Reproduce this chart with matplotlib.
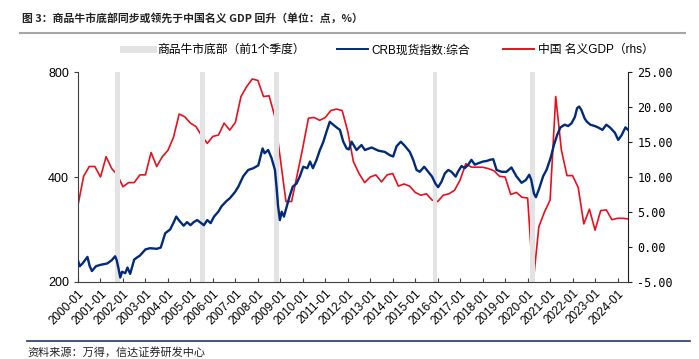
import matplotlib
matplotlib.use('Agg')
import matplotlib.pyplot as plt
from matplotlib.lines import Line2D
import numpy as np

plt.rcParams['font.family'] = ['Liberation Sans', 'Noto Sans CJK SC', 'DejaVu Sans']
plt.rcParams['axes.unicode_minus'] = False

# grey bands: commodity bull market bottoms (one quarter before), decimal years
band_start = [2001.65, 2005.42, 2008.72, 2015.77, 2020.10]
band_end = [2001.87, 2005.65, 2008.94, 2015.99, 2020.32]

# CRB spot index (composite)
crb_t = [2000.00, 2000.08, 2000.20, 2000.42, 2000.52, 2000.62, 2000.80, 2001.00, 2001.15, 2001.30,
         2001.50, 2001.65, 2001.72, 2001.80, 2001.88, 2001.96, 2002.10, 2002.20, 2002.32, 2002.50,
         2002.62, 2002.75, 2003.00, 2003.20, 2003.50, 2003.68, 2003.88, 2004.10, 2004.25, 2004.37,
         2004.50, 2004.70, 2004.85, 2005.00, 2005.15, 2005.30, 2005.45, 2005.60, 2005.75, 2005.90,
         2006.05, 2006.24, 2006.39, 2006.60, 2006.76, 2006.98, 2007.13, 2007.35, 2007.57, 2007.80,
         2008.02, 2008.12, 2008.21, 2008.30, 2008.46, 2008.61, 2008.76, 2008.83, 2008.90, 2008.98,
         2009.06, 2009.16, 2009.22, 2009.40, 2009.55, 2009.72, 2009.87, 2010.02, 2010.20, 2010.32,
         2010.45, 2010.61, 2010.76, 2010.90, 2011.06, 2011.20, 2011.35, 2011.50, 2011.65, 2011.80,
         2011.95, 2012.05, 2012.17, 2012.39, 2012.61, 2012.76, 2013.06, 2013.36, 2013.65, 2013.87,
         2014.02, 2014.17, 2014.36, 2014.54, 2014.76, 2014.91, 2015.06, 2015.20, 2015.40, 2015.58,
         2015.75, 2015.90, 2016.02, 2016.17, 2016.32, 2016.47, 2016.61, 2016.80, 2016.90, 2017.06,
         2017.20, 2017.36, 2017.50, 2017.65, 2017.80, 2018.02, 2018.20, 2018.32, 2018.47, 2018.62,
         2018.84, 2019.06, 2019.28, 2019.50, 2019.73, 2019.92, 2020.07, 2020.16, 2020.28, 2020.37,
         2020.51, 2020.69, 2020.84, 2021.02, 2021.17, 2021.31, 2021.46, 2021.65, 2021.80, 2021.95,
         2022.10, 2022.20, 2022.29, 2022.39, 2022.54, 2022.64, 2022.79, 2022.99, 2023.13, 2023.33,
         2023.50, 2023.66, 2023.88, 2024.03, 2024.18, 2024.35, 2024.47]
crb = [230, 222, 226, 236, 222, 215, 222, 224, 225, 226,
       231, 237, 231, 219, 206, 214, 212, 220, 211, 232,
       235, 238, 248, 250, 249, 251, 276, 283, 296, 308,
       300, 290, 297, 291, 297, 301, 296, 291, 301, 295,
       308, 318, 330, 341, 348, 362, 375, 402, 419, 424,
       432, 458, 483, 468, 478, 453, 419, 375, 330, 301,
       318, 308, 318, 350, 375, 383, 402, 428, 424, 443,
       424, 448, 478, 502, 541, 576, 565, 555, 546, 505,
       483, 480, 505, 478, 494, 478, 486, 476, 472, 462,
       458, 490, 505, 491, 472, 448, 419, 414, 428, 414,
       401, 383, 374, 388, 410, 419, 414, 401, 414, 430,
       424, 434, 448, 434, 438, 443, 445, 448, 450, 419,
       414, 414, 426, 402, 385, 392, 406, 393, 359, 350,
       370, 402, 419, 453, 494, 527, 555, 565, 560, 570,
       594, 630, 637, 623, 588, 576, 565, 560, 555, 546,
       565, 555, 536, 511, 527, 555, 546]

# China nominal GDP yoy (%), quarterly from 2000Q1
gdp = [6.0, 10.1, 11.5, 11.5,
       10.0, 12.9, 11.2, 10.3,
       8.6, 9.2, 9.2, 10.3,
       10.3, 13.5, 11.5, 12.9,
       13.8, 15.7, 19.0, 18.6,
       17.7, 17.2, 15.9, 14.8,
       15.8, 16.0, 17.7, 16.7,
       17.8, 21.5, 22.9, 24.0,
       23.8, 21.5, 21.6, 18.7,
       12.6, 6.5, 6.5, 10.3,
       14.2, 18.4, 18.5, 18.1,
       18.5, 19.5, 19.7, 19.5,
       16.5, 12.2, 10.5, 9.2,
       10.0, 10.3, 9.3, 10.3,
       10.5, 8.7, 9.0, 8.7,
       7.8, 7.4, 7.6, 6.7,
       6.5, 7.4, 7.6, 8.1,
       9.6, 11.9, 11.4, 11.4,
       11.4, 11.2, 10.9, 10.1,
       10.0, 7.5, 7.8, 7.1,
       7.0, -5.0, 2.9, 5.0,
       6.7, 21.5, 13.9, 10.2,
       10.2, 8.5, 3.3, 5.4,
       2.4, 5.2, 5.3, 3.9,
       4.1, 4.1, 4.0]
gdp_t = [2000 + i * 0.25 for i in range(len(gdp))]

years = list(range(2000, 2025))
year_labels = [f'{y}-01' for y in years]

fig = plt.figure(figsize=(6.99, 3.59), dpi=100)
ax = fig.add_axes([0.1116, 0.2145, 0.7873, 0.5849])
ax2 = ax.twinx()

blue = '#002a7a'
red = '#e8101e'
grey = '#e3e3e3'

for s, e in zip(band_start, band_end):
    ax.axvspan(s, e, color=grey, lw=0, zorder=0)

ax.plot(crb_t, crb, color=blue, lw=1.7, zorder=3)
ax2.plot(gdp_t, gdp, color=red, lw=1.2, zorder=2)
ax.set_zorder(ax2.get_zorder() + 1)
ax.patch.set_visible(False)

ax.set_yscale('log', base=2)
ax.set_ylim(200, 800)
ax.set_yticks([200, 400, 800])
ax.set_yticklabels(['200', '400', '800'])
ax.yaxis.set_minor_locator(matplotlib.ticker.NullLocator())
ax.set_xlim(2000.0, 2024.48)
ax.set_xticks(years)
ax.set_xticklabels(year_labels, rotation=45, ha='right', rotation_mode='anchor')

ax2.set_ylim(-5, 25)
ax2.set_yticks(np.arange(-5, 26, 5))
ax2.set_yticklabels([f'{v:.2f}' for v in np.arange(-5, 26, 5)],
                    fontfamily='DejaVu Sans Mono', fontsize=8.5)

for a in (ax, ax2):
    a.spines['top'].set_visible(False)
ax.spines['right'].set_visible(False)
ax.spines['left'].set_color('#404040')
ax.spines['bottom'].set_color('#404040')
ax2.spines['left'].set_visible(False)
ax2.spines['bottom'].set_visible(False)
ax2.spines['right'].set_color('#202020')
ax.tick_params(axis='x', direction='in', length=3, labelsize=8.5, pad=4, color='#404040')
ax.tick_params(axis='y', direction='out', length=3, labelsize=9, color='#404040')
ax2.tick_params(axis='y', direction='out', length=3, color='#202020')

handles = [Line2D([], [], color=grey, lw=5),
           Line2D([], [], color=blue, lw=1.4),
           Line2D([], [], color=red, lw=1.4)]
labels = ['商品牛市底部（前1个季度）', 'CRB现货指数:综合', '中国 名义GDP（rhs）']
fig.legend(handles, labels, loc='center', bbox_to_anchor=(0.555, 0.86), ncol=3,
           frameon=False, fontsize=8.5, handlelength=2.6, handletextpad=0.3, columnspacing=2.8)

fig.text(0.031, 0.95, '图 3：商品牛市底部同步或领先于中国名义 GDP 回升（单位：点，%）',
         fontsize=7.8, fontweight='bold', color='#222222', va='center',
         fontfamily=['Noto Sans CJK SC', 'DejaVu Sans'])
fig.add_artist(Line2D([0.029, 0.98], [0.908, 0.908], color='#a6a6a6', lw=1.5))
fig.add_artist(Line2D([0.039, 0.987], [0.049, 0.049], color='#1f3864', lw=1.2))
fig.text(0.04, 0.02, '资料来源：万得，信达证券研发中心', fontsize=8, color='#222222',
         style='italic', va='center', fontfamily=['Noto Sans CJK SC', 'DejaVu Sans'])

fig.savefig('out.png', dpi=100)
